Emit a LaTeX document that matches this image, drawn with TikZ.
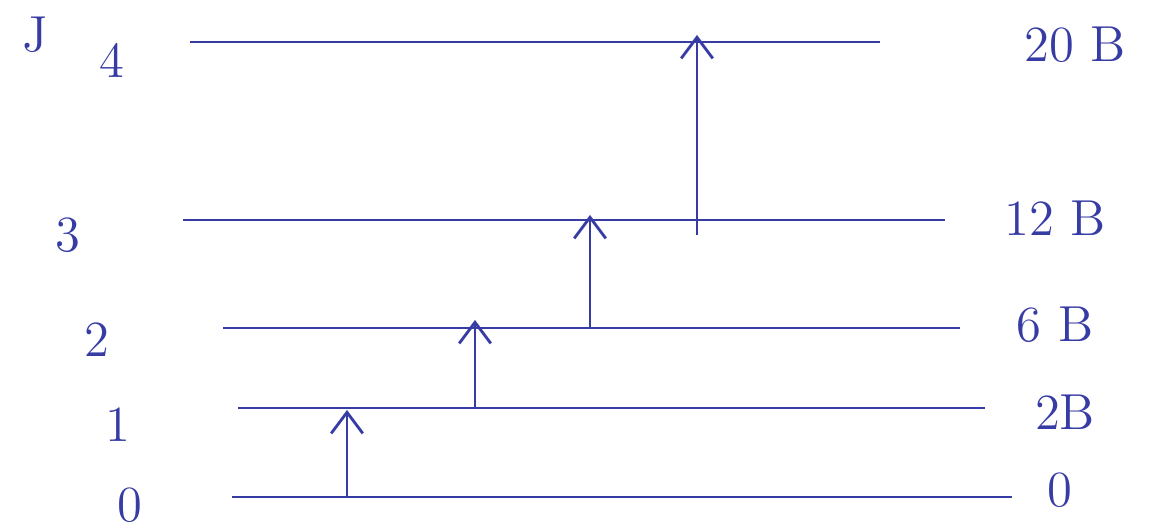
\documentclass[tikz,border=0pt]{standalone}
\usepackage{tikz}
\usetikzlibrary{arrows.meta}
\definecolor{ink}{RGB}{55,60,165}

\begin{document}
\begin{tikzpicture}[x=0.01cm,y=-0.01cm,
    level/.style={thick,ink},
    jump/.style={thick,ink,-{Straight Barb[length=6pt,width=9pt]}},
    lab/.style={ink,font=\Large}]
  \useasboundingbox (0,0) rectangle (1157,531);
  % rotational levels: J / left end / right end / height / J label / energy label
  \foreach \j/\xa/\xb/\y/\xj/\yj/\xe/\ye/\e in {0/232/1012/497/130/505/1060/490/0,
      1/238/985/408/118/425/1065/412/2B,
      2/223/960/328/97/340/1055/325/6 B,
      3/183/945/220/68/235/1055/218/12 B,
      4/190/880/42/112/60/1075/45/20 B} {
    \coordinate (l\j) at (\xa,\y);
    \coordinate (r\j) at (\xb,\y);
    \draw[level] (l\j) -- (r\j);
    \node[lab] (j\j) at (\xj,\yj) {\j};
    \node[lab] (e\j) at (\xe,\ye) {\e};
  }
  \node[lab] (jsym) at (35,35) {J};
  % transitions
  \coordinate (a0) at (347,497);  \coordinate (b0) at (347,410);
  \coordinate (a1) at (475,408);  \coordinate (b1) at (475,320);
  \coordinate (a2) at (590,328);  \coordinate (b2) at (590,215);
  \coordinate (a3) at (697,235);  \coordinate (b3) at (697,35);
  \foreach \i in {0,...,3} {
    \draw[jump] (a\i) -- (b\i);
  }
\end{tikzpicture}
\end{document}
